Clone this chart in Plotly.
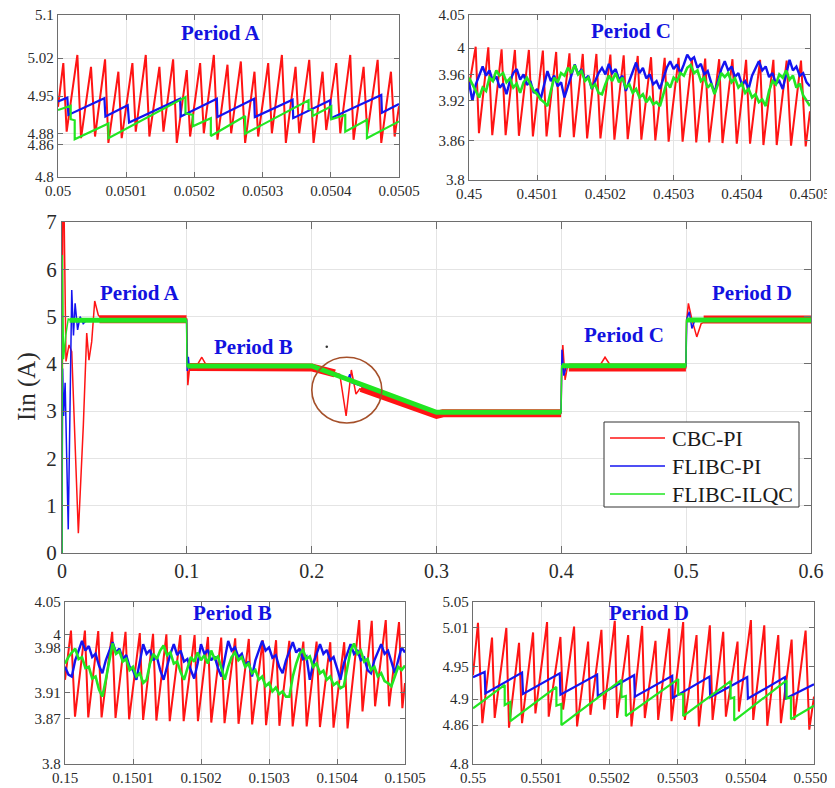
import plotly.graph_objects as go

# The page body adds an 8 px margin, so the figure is drawn 8 px in from the top-left corner.
OFF = 8
W, H = 835 - OFF, 788 - OFF

# ---------------- DATA ----------------
T0_A, T0_B, T0_C, T0_D = 0.05, 0.15, 0.45, 0.55
SAMPLE_US = 5.0   # sampling step (microseconds) of the typed FLIBC series in periods B and C

# Period A (t in microseconds after 0.05 s)
RED_A_US = [0, 7.8, 12.7, 28.4, 33.8, 48.4, 54.3, 69.0, 73.9, 88.5, 93.4, 109.1, 114.0, 128.7, 134.0,
            148.7, 154.6, 168.8, 174.2, 188.8, 193.7, 208.4, 213.8, 228.5, 233.8, 248.5, 253.9, 268.1,
            274.4, 288.1, 293.5, 308.2, 313.6, 328.3, 334.1, 348.3, 353.7, 368.4, 374.7, 387.9, 393.3,
            408.0, 413.9, 428.5, 433.4, 448.1, 453.5, 468.7, 474.0, 488.2, 493.6, 500]
RED_A_VAL = [4.930, 5.011, 4.884, 5.026, 4.872, 5.004, 4.875, 5.018, 4.863, 4.995, 4.872, 5.011, 4.884,
             5.026, 4.875, 5.004, 4.884, 5.018, 4.863, 4.998, 4.875, 5.011, 4.881, 5.026, 4.869, 5.008,
             4.881, 5.014, 4.863, 4.995, 4.875, 5.011, 4.881, 5.026, 4.863, 5.004, 4.881, 5.017, 4.863,
             4.995, 4.887, 5.011, 4.881, 5.026, 4.869, 5.004, 4.881, 5.017, 4.863, 4.995, 4.875, 4.931]
BLUE_A_US = [0, 13.7, 15.2, 68.0, 69.5, 102.2, 104.2, 179.0, 180.0, 232.9, 233.8, 287.6, 288.6,
             343.9, 344.9, 399.2, 400.2, 474.0, 475.0, 500]
BLUE_A_VAL = [4.940, 4.947, 4.915, 4.946, 4.912, 4.933, 4.901, 4.945, 4.912, 4.945, 4.911, 4.945,
              4.911, 4.943, 4.909, 4.942, 4.909, 4.952, 4.919, 4.935]
GREEN_A_US = [0, 18.6, 18.6, 24.5, 24.5, 73.9, 73.9, 186.9, 186.9, 197.6, 197.6, 224.1, 224.1, 274.4,
              274.4, 367.4, 367.4, 373.3, 373.3, 400.7, 400.7, 421.2, 421.2, 453.0, 453.0, 500]
GREEN_A_VAL = [4.924, 4.932, 4.907, 4.905, 4.870, 4.899, 4.872, 4.948, 4.918, 4.915, 4.894, 4.909,
               4.876, 4.913, 4.880, 4.942, 4.926, 4.924, 4.913, 4.931, 4.907, 4.915, 4.884, 4.906,
               4.872, 4.903]

# Period C (t in microseconds after 0.45 s)
RED_C_US = [0, 9.8, 14.6, 28.3, 34.1, 47.8, 53.7, 67.3, 73.2, 87.8, 93.7, 108.3, 113.7, 127.8, 133.2,
            147.3, 153.7, 166.8, 173.2, 186.8, 192.7, 207.3, 213.2, 226.8, 232.7, 247.4, 252.7, 266.9,
            273.2, 286.9, 292.7, 307.3, 313.2, 326.8, 333.2, 346.3, 352.2, 366.8, 371.7, 386.3, 392.6,
            406.3, 412.1, 426.8, 431.7, 446.3, 451.2, 465.8, 472.2, 486.8, 493.7, 500]
RED_C_VAL = [3.941, 4.002, 3.871, 4.001, 3.868, 3.998, 3.868, 3.997, 3.867, 3.997, 3.866, 3.996, 3.866,
             3.994, 3.865, 3.992, 3.865, 3.991, 3.863, 3.991, 3.863, 3.990, 3.861, 3.989, 3.862, 3.988,
             3.861, 3.986, 3.860, 3.985, 3.858, 3.985, 3.858, 3.984, 3.857, 3.984, 3.857, 3.983, 3.856,
             3.983, 3.855, 3.982, 3.855, 3.982, 3.853, 3.982, 3.853, 3.981, 3.852, 3.981, 3.851, 3.904]
BLUE_C_VAL = [3.948, 3.920, 3.945, 3.960, 3.972, 3.958, 3.966, 3.950, 3.957, 3.940,
              3.946, 3.930, 3.950, 3.962, 3.968, 3.952, 3.960, 3.944, 3.950, 3.932,
              3.938, 3.922, 3.945, 3.965, 3.950, 3.958, 3.942, 3.948, 3.925, 3.940,
              3.958, 3.975, 3.960, 3.968, 3.952, 3.958, 3.938, 3.950, 3.962, 3.970,
              3.960, 3.976, 3.962, 3.968, 3.952, 3.958, 3.935, 3.950, 3.965, 3.978,
              3.962, 3.970, 3.954, 3.960, 3.945, 3.950, 3.938, 3.955, 3.970, 3.980,
              3.968, 3.975, 3.962, 3.975, 3.990, 3.982, 3.986, 3.970, 3.976, 3.960,
              3.965, 3.948, 3.932, 3.950, 3.968, 3.980, 3.966, 3.972, 3.956, 3.962,
              3.945, 3.950, 3.938, 3.958, 3.970, 3.980, 3.966, 3.972, 3.956, 3.962,
              3.946, 3.950, 3.938, 3.962, 3.982, 3.966, 3.972, 3.958, 3.962, 3.948,
              3.942]
GREEN_C_VAL = [3.955, 3.945, 3.935, 3.925, 3.940, 3.935, 3.955, 3.950, 3.966, 3.958,
               3.962, 3.948, 3.954, 3.940, 3.946, 3.932, 3.948, 3.955, 3.945, 3.935,
               3.930, 3.922, 3.918, 3.912, 3.935, 3.955, 3.948, 3.962, 3.958, 3.970,
               3.962, 3.974, 3.960, 3.965, 3.950, 3.955, 3.940, 3.945, 3.932, 3.930,
               3.945, 3.958, 3.950, 3.962, 3.948, 3.955, 3.940, 3.945, 3.932, 3.938,
               3.925, 3.930, 3.918, 3.925, 3.915, 3.918, 3.912, 3.930, 3.948, 3.940,
               3.955, 3.950, 3.962, 3.958, 3.970, 3.974, 3.962, 3.966, 3.950, 3.955,
               3.940, 3.946, 3.930, 3.945, 3.962, 3.956, 3.962, 3.948, 3.954, 3.940,
               3.946, 3.932, 3.938, 3.925, 3.930, 3.918, 3.922, 3.912, 3.935, 3.950,
               3.945, 3.960, 3.955, 3.966, 3.952, 3.958, 3.940, 3.946, 3.928, 3.920,
               3.912]

# Period B (t in microseconds after 0.15 s)
RED_B_US = [0, 8.8, 14.7, 29.3, 34.2, 48.9, 53.8, 69.4, 74.3, 89.0, 94.3, 110.0, 114.9, 129.5, 134.4,
            149.1, 154.0, 169.6, 174.5, 190.6, 195.5, 210.2, 215.1, 229.7, 234.6, 250.3, 255.2, 270.3,
            275.2, 290.8, 295.7, 310.4, 315.3, 329.9, 334.8, 350.5, 355.4, 370.0, 374.9, 390.1, 394.9,
            410.6, 415.5, 432.6, 437.5, 451.1, 456.0, 471.7, 476.6, 491.2, 496.1, 500]
RED_B_VAL = [3.930, 4.006, 3.873, 4.006, 3.872, 4.005, 3.872, 4.004, 3.871, 4.004, 3.869, 4.002, 3.868,
             4.001, 3.867, 4.000, 3.866, 3.999, 3.866, 3.999, 3.866, 3.996, 3.864, 3.995, 3.863, 3.994,
             3.862, 3.993, 3.861, 3.991, 3.860, 3.991, 3.859, 3.990, 3.858, 3.989, 3.858, 3.989, 3.857,
             3.988, 3.856, 3.988, 3.855, 4.022, 3.881, 4.021, 3.889, 4.022, 3.889, 4.019, 3.886, 3.925]
BLUE_B_VAL = [3.950, 3.938, 3.935, 3.960, 3.975, 3.990, 3.975, 3.982, 3.965, 3.970,
              3.952, 3.940, 3.960, 3.975, 3.988, 3.972, 3.978, 3.962, 3.968, 3.950,
              3.945, 3.930, 3.958, 3.985, 3.970, 3.976, 3.960, 3.966, 3.945, 3.930,
              3.950, 3.970, 3.985, 3.968, 3.975, 3.958, 3.962, 3.945, 3.932, 3.955,
              3.985, 3.970, 3.976, 3.960, 3.966, 3.948, 3.935, 3.960, 3.990, 3.975,
              3.980, 3.965, 3.970, 3.952, 3.958, 3.935, 3.960, 3.975, 3.990, 3.975,
              3.980, 3.964, 3.968, 3.950, 3.940, 3.960, 3.975, 3.988, 3.972, 3.978,
              3.962, 3.966, 3.930, 3.955, 3.970, 3.985, 3.970, 3.976, 3.960, 3.965,
              3.948, 3.930, 3.955, 3.970, 3.985, 3.970, 3.976, 3.960, 3.964, 3.945,
              3.940, 3.960, 3.972, 3.985, 3.970, 3.975, 3.958, 3.940, 3.960, 3.980,
              3.972]
GREEN_B_VAL = [3.955, 3.965, 3.972, 3.978, 3.962, 3.965, 3.948, 3.950, 3.932, 3.935,
               3.915, 3.904, 3.930, 3.960, 3.986, 3.970, 3.974, 3.958, 3.962, 3.945,
               3.950, 3.935, 3.940, 3.925, 3.930, 3.955, 3.970, 3.962, 3.975, 3.983,
               3.968, 3.972, 3.955, 3.958, 3.942, 3.930, 3.948, 3.965, 3.958, 3.972,
               3.960, 3.968, 3.955, 3.975, 3.962, 3.966, 3.948, 3.930, 3.950, 3.965,
               3.972, 3.960, 3.965, 3.950, 3.955, 3.940, 3.945, 3.930, 3.935, 3.920,
               3.925, 3.912, 3.918, 3.908, 3.912, 3.904, 3.904, 3.935, 3.955, 3.970,
               3.976, 3.962, 3.966, 3.950, 3.955, 3.940, 3.944, 3.930, 3.935, 3.922,
               3.926, 3.917, 3.920, 3.950, 3.975, 3.986, 3.970, 3.975, 3.958, 3.962,
               3.945, 3.950, 3.935, 3.940, 3.928, 3.925, 3.920, 3.935, 3.950, 3.945,
               3.952]

# Period D (t in microseconds after 0.55 s)
RED_D_US = [0, 7.3, 13.7, 27.9, 31.8, 48.9, 52.8, 67.5, 71.9, 88.1, 91.5, 108.6, 111.0, 128.2, 132.1,
            148.2, 152.6, 168.8, 172.2, 188.3, 192.3, 207.9, 211.3, 227.5, 232.4, 248.0, 251.9, 267.6,
            271.5, 287.6, 291.1, 308.2, 310.6, 327.8, 331.2, 347.3, 351.3, 366.9, 370.8, 387.9, 389.9,
            407.5, 410.9, 427.1, 431.5, 447.6, 451.5, 467.2, 471.1, 487.7, 493.1, 500]
RED_D_VAL = [4.937, 5.018, 4.863, 4.995, 4.871, 5.010, 4.856, 4.987, 4.863, 5.003, 4.878, 5.019, 4.873,
             4.996, 4.884, 5.012, 4.858, 4.989, 4.876, 5.007, 4.884, 5.021, 4.871, 4.999, 4.858, 5.013,
             4.871, 4.990, 4.868, 5.009, 4.866, 5.019, 4.868, 4.999, 4.858, 5.014, 4.868, 5.004, 4.873,
             4.989, 4.881, 5.022, 4.868, 5.014, 4.859, 4.999, 4.863, 4.992, 4.868, 5.006, 4.853, 4.904]
BLUE_D_US = [0, 17.1, 18.1, 71.9, 73.4, 127.2, 128.2, 182.0, 183.0, 236.3, 237.3, 292.1, 293.0,
             346.8, 347.8, 402.1, 403.1, 457.4, 458.4, 500]
BLUE_D_VAL = [4.934, 4.942, 4.909, 4.941, 4.908, 4.940, 4.907, 4.938, 4.905, 4.937, 4.904, 4.936,
              4.902, 4.935, 4.903, 4.934, 4.901, 4.934, 4.901, 4.923]
GREEN_D_US = [0, 46.5, 46.5, 54.8, 54.8, 122.3, 122.3, 129.6, 129.6, 217.7, 217.7, 224.1, 224.1, 300.9,
              300.9, 308.2, 308.2, 377.7, 377.7, 383.0, 383.0, 459.8, 459.8, 466.2, 466.2, 500]
GREEN_D_VAL = [4.886, 4.922, 4.891, 4.896, 4.866, 4.919, 4.890, 4.893, 4.860, 4.930, 4.903, 4.905,
               4.874, 4.931, 4.907, 4.908, 4.874, 4.928, 4.901, 4.903, 4.867, 4.929, 4.901, 4.903,
               4.869, 4.890]

# Main figure (0 - 0.6 s)
RED_MAIN_T = [0, 0.0008, 0.0032, 0.0056, 0.0078, 0.0131, 0.0171, 0.0198, 0.0216, 0.0238, 0.0262,
              0.0291, 0.032, 0.0999, 0.1008, 0.1025, 0.108, 0.112, 0.116, 0.2, 0.215, 0.2225, 0.2276,
              0.2318, 0.2355, 0.2385, 0.245, 0.3, 0.305, 0.3998, 0.4003, 0.4012, 0.403, 0.405, 0.41,
              0.43, 0.435, 0.44, 0.4998, 0.5003, 0.5018, 0.5045, 0.5085, 0.512, 0.52, 0.6]
RED_MAIN_V = [0, 9.0, 4.05, 4.40, 4.26, 0.42, 2.71, 4.65, 4.08, 4.47, 5.33,
              5.03, 4.95, 4.95, 3.55, 4.0, 3.96, 4.14, 3.95, 3.93, 3.84, 3.78, 2.90,
              3.87, 3.36, 3.47, 3.44, 2.92, 2.96, 2.96, 3.9, 4.40, 3.66, 3.95, 3.92,
              3.93, 4.14, 3.94, 3.92, 4.9, 5.28, 4.95, 4.57, 4.85, 4.94, 4.94]
RED_BAND_T = [0.03, 0.0998, None, 0.1025, 0.2, 0.2185, None, 0.2395, 0.3, 0.305, 0.3998, None,
              0.406, 0.4998, None, 0.514, 0.6]
RED_BAND_V = [4.945, 4.945, None, 3.935, 3.925, 3.80, None, 3.49, 2.92, 2.955, 2.955, None,
              3.925, 3.925, None, 4.94, 4.94]
BLUE_MAIN_T = [0, 0.0005, 0.0013, 0.0025, 0.005, 0.0078, 0.0092, 0.0105, 0.0125, 0.0145, 0.017, 0.02,
               0.0998, 0.1003, 0.1012, 0.102, 0.104, 0.2, 0.229, 0.2305, 0.232, 0.3, 0.3998, 0.4005,
               0.402, 0.404, 0.4998, 0.5005, 0.5025, 0.5046, 0.507, 0.6]
BLUE_MAIN_V = [0, 3.9, 2.9, 3.6, 0.5, 5.56, 4.6, 5.28, 4.72, 5.0, 4.85, 4.93,
               4.92, 3.85, 4.15, 3.9, 3.97, 3.96, 3.67, 3.78, 3.6, 2.97, 2.97, 4.3,
               3.75, 3.95, 3.96, 4.95, 5.1, 4.75, 4.93, 4.95]
GREEN_MAIN_T = [0, 0.0002, 0.0012, 0.003, 0.005, 0.008, 0.0998, 0.1001, 0.2, 0.3, 0.3998, 0.4002,
                0.4998, 0.5002, 0.6]
GREEN_MAIN_V = [0, 6.3, 4.1, 4.6, 4.95, 4.9, 4.92, 3.955, 3.955, 2.975, 2.975, 3.96, 3.96, 4.93, 4.93]
GREEN_BAND_T = [0.006, 0.0998, None, 0.1003, 0.2, 0.3, 0.3998, None, 0.4004, 0.4998, None, 0.5004, 0.6]
GREEN_BAND_V = [4.92, 4.92, None, 3.955, 3.955, 2.975, 2.975, None, 3.96, 3.96, None, 4.93, 4.93]

# Tick labels
MAIN_X_TICKS = [0, 0.1, 0.2, 0.3, 0.4, 0.5, 0.6]
MAIN_X_TEXT = ['0', '0.1', '0.2', '0.3', '0.4', '0.5', '0.6']
MAIN_Y_TICKS = [0, 1, 2, 3, 4, 5, 6, 7]
A_X_TICKS = [0.05, 0.0501, 0.0502, 0.0503, 0.0504, 0.0505]
A_X_TEXT = ['0.05', '0.0501', '0.0502', '0.0503', '0.0504', '0.0505']
A_Y_TICKS = [4.8, 4.86, 4.88, 4.95, 5.02, 5.1]
A_Y_TEXT = ['4.8', '4.86', '4.88', '4.95', '5.02', '5.1']
C_X_TICKS = [0.45, 0.4501, 0.4502, 0.4503, 0.4504, 0.4505]
C_X_TEXT = ['0.45', '0.4501', '0.4502', '0.4503', '0.4504', '0.4505']
C_Y_TICKS = [3.8, 3.86, 3.92, 3.96, 4.0, 4.05]
C_Y_TEXT = ['3.8', '3.86', '3.92', '3.96', '4', '4.05']
B_X_TICKS = [0.15, 0.1501, 0.1502, 0.1503, 0.1504, 0.1505]
B_X_TEXT = ['0.15', '0.1501', '0.1502', '0.1503', '0.1504', '0.1505']
B_Y_TICKS = [3.8, 3.87, 3.91, 3.98, 4.0, 4.05]
B_Y_TEXT = ['3.8', '3.87', '3.91', '3.98', '4', '4.05']
D_X_TICKS = [0.55, 0.5501, 0.5502, 0.5503, 0.5504, 0.5505]
D_X_TEXT = ['0.55', '0.5501', '0.5502', '0.5503', '0.5504', '0.5505']
D_Y_TICKS = [4.8, 4.86, 4.9, 4.95, 5.01, 5.05]
D_Y_TEXT = ['4.8', '4.86', '4.9', '4.95', '5.01', '5.05']

SERIES_NAMES = ['CBC-PI', 'FLIBC-PI', 'FLIBC-ILQC']

# ---------------- STYLE ----------------
RED, BLUE, GREEN = '#ff1414', '#1414f0', '#22e622'
SERIES_COLORS = [RED, BLUE, GREEN]
LABEL_BLUE = '#1212e0'
SERIF = 'Liberation Serif'


def abs_t(t0, us):
    return [t0 + u * 1e-6 for u in us]


def grid_t(t0, n):
    return [t0 + i * SAMPLE_US * 1e-6 for i in range(n)]


def pxx(p):
    return (p - OFF) / W


def pxy(p):
    return 1 - (p - OFF) / H


fig = go.Figure()


def add(x, y, color, width, xa='x', ya='y', name=None):
    fig.add_trace(go.Scatter(x=x, y=y, mode='lines', line=dict(color=color, width=width),
                             xaxis=xa, yaxis=ya, showlegend=False, hoverinfo='skip',
                             connectgaps=False, name=name))


# main
add(RED_BAND_T, RED_BAND_V, RED, 8, name=SERIES_NAMES[0])
add(RED_MAIN_T, RED_MAIN_V, RED, 1.5, name=SERIES_NAMES[0])
add(BLUE_MAIN_T, BLUE_MAIN_V, BLUE, 1.5, name=SERIES_NAMES[1])
add(GREEN_BAND_T, GREEN_BAND_V, GREEN, 5, name=SERIES_NAMES[2])
add(GREEN_MAIN_T, GREEN_MAIN_V, GREEN, 1.5, name=SERIES_NAMES[2])
fig.add_trace(go.Scatter(x=[0.2121], y=[4.36], mode='markers', marker=dict(size=2.5, color='#333333'),
                         showlegend=False, hoverinfo='skip'))

# Period A
add(abs_t(T0_A, RED_A_US), RED_A_VAL, RED, 2, 'x2', 'y2')
add(abs_t(T0_A, BLUE_A_US), BLUE_A_VAL, BLUE, 2.2, 'x2', 'y2')
add(abs_t(T0_A, GREEN_A_US), GREEN_A_VAL, GREEN, 2.2, 'x2', 'y2')
# Period C
add(abs_t(T0_C, RED_C_US), RED_C_VAL, RED, 2, 'x3', 'y3')
add(grid_t(T0_C, len(BLUE_C_VAL)), BLUE_C_VAL, BLUE, 2.4, 'x3', 'y3')
add(grid_t(T0_C, len(GREEN_C_VAL)), GREEN_C_VAL, GREEN, 2.6, 'x3', 'y3')
# Period B
add(abs_t(T0_B, RED_B_US), RED_B_VAL, RED, 2, 'x4', 'y4')
add(grid_t(T0_B, len(BLUE_B_VAL)), BLUE_B_VAL, BLUE, 2.4, 'x4', 'y4')
add(grid_t(T0_B, len(GREEN_B_VAL)), GREEN_B_VAL, GREEN, 2.6, 'x4', 'y4')
# Period D
add(abs_t(T0_D, RED_D_US), RED_D_VAL, RED, 2, 'x5', 'y5')
add(abs_t(T0_D, BLUE_D_US), BLUE_D_VAL, BLUE, 2.2, 'x5', 'y5')
add(abs_t(T0_D, GREEN_D_US), GREEN_D_VAL, GREEN, 2.2, 'x5', 'y5')


def axstyle(fs, **kw):
    d = dict(showline=True, linecolor='#6e6e6e', linewidth=1.3, mirror='allticks',
             ticks='inside', ticklen=5, tickcolor='#6e6e6e', tickwidth=1,
             showgrid=True, gridcolor='#e4e4e4', gridwidth=1, zeroline=False,
             tickfont=dict(family=SERIF, size=fs, color='#2a2a2a'), automargin=False,
             ticklabeloverflow='allow')
    d.update(kw)
    return d


def dom_x(a, b):
    return [pxx(a), pxx(b)]


def dom_y(top, bottom):
    return [pxy(bottom), pxy(top)]


fig.update_layout(
    width=W, height=H, margin=dict(l=0, r=0, t=0, b=0),
    paper_bgcolor='white', plot_bgcolor='white', showlegend=False,
    xaxis=axstyle(20, domain=dom_x(62, 811), range=[0, 0.6], tickvals=MAIN_X_TICKS,
                  ticktext=MAIN_X_TEXT, anchor='y', ticklen=7),
    yaxis=axstyle(21, domain=dom_y(222, 553), range=[0, 7], tickvals=MAIN_Y_TICKS,
                  anchor='x', ticklen=7),
    xaxis2=axstyle(15, domain=dom_x(58, 399), range=[0.05, 0.0505], tickvals=A_X_TICKS,
                   ticktext=A_X_TEXT, anchor='y2'),
    yaxis2=axstyle(15, domain=dom_y(15, 177), range=[4.8, 5.1], tickvals=A_Y_TICKS,
                   ticktext=A_Y_TEXT, anchor='x2'),
    xaxis3=axstyle(15, domain=dom_x(469, 810), range=[0.45, 0.4505], tickvals=C_X_TICKS,
                   ticktext=C_X_TEXT, anchor='y3'),
    yaxis3=axstyle(15, domain=dom_y(15, 180), range=[3.8, 4.05], tickvals=C_Y_TICKS,
                   ticktext=C_Y_TEXT, anchor='x3'),
    xaxis4=axstyle(15, domain=dom_x(65, 405), range=[0.15, 0.1505], tickvals=B_X_TICKS,
                   ticktext=B_X_TEXT, anchor='y4'),
    yaxis4=axstyle(15, domain=dom_y(602, 764), range=[3.8, 4.05], tickvals=B_Y_TICKS,
                   ticktext=B_Y_TEXT, anchor='x4'),
    xaxis5=axstyle(15, domain=dom_x(473, 814), range=[0.55, 0.5505], tickvals=D_X_TICKS,
                   ticktext=D_X_TEXT, anchor='y5'),
    yaxis5=axstyle(15, domain=dom_y(602, 764), range=[4.8, 5.05], tickvals=D_Y_TICKS,
                   ticktext=D_Y_TEXT, anchor='x5'),
)

# circle highlight
fig.add_shape(type='circle', xref='x', yref='y', x0=0.2001, x1=0.2562, y0=2.75, y1=4.14,
              line=dict(color='#a5502a', width=1.6))

# legend box drawn as shapes + text (MATLAB-style layout)
fig.add_shape(type='rect', xref='paper', yref='paper', x0=pxx(604), x1=pxx(799), y0=pxy(507),
              y1=pxy(422), line=dict(color='#333333', width=1), fillcolor='white', layer='above')
for i, (name, col) in enumerate(zip(SERIES_NAMES, SERIES_COLORS)):
    yy = 438 + 28 * i
    fig.add_shape(type='line', xref='paper', yref='paper', x0=pxx(610), x1=pxx(665), y0=pxy(yy),
                  y1=pxy(yy), line=dict(color=col, width=1.5), layer='above')
    fig.add_annotation(x=pxx(670), y=pxy(yy), xref='paper', yref='paper', text=name,
                       showarrow=False, xanchor='left', yanchor='middle',
                       font=dict(family=SERIF, size=22, color='#1a1a1a'))

# period labels (pixel centres of the reference picture)
labels = [('Period A', 221, 33), ('Period C', 631, 31), ('Period B', 232, 613),
          ('Period D', 649, 613), ('Period A', 140, 293), ('Period B', 253, 347),
          ('Period C', 624, 335), ('Period D', 752, 293)]
for txt, px, py in labels:
    fig.add_annotation(x=pxx(px), y=pxy(py), xref='paper', yref='paper', text='<b>' + txt + '</b>',
                       showarrow=False, xanchor='center', yanchor='middle',
                       font=dict(family=SERIF, size=21, color=LABEL_BLUE))

fig.add_annotation(x=pxx(27), y=pxy(387), xref='paper', yref='paper', text='Iin (A)', textangle=-90,
                   showarrow=False, xanchor='center', yanchor='middle',
                   font=dict(family=SERIF, size=25, color='#2a2a2a'))

fig.write_html('out.html')
